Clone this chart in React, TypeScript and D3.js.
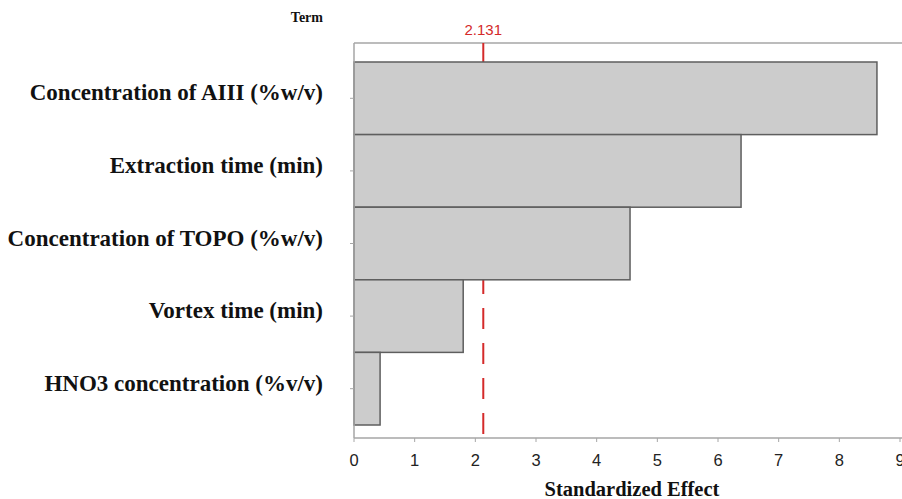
import React from "react";
import * as d3 from "d3";

// Pareto chart of standardized effects
const terms = [
  "Concentration of AIII (%w/v)",
  "Extraction time (min)",
  "Concentration of TOPO (%w/v)",
  "Vortex time (min)",
  "HNO3 concentration (%v/v)",
];
const effects = [8.62, 6.38, 4.55, 1.8, 0.43];
const xTicks = [0, 1, 2, 3, 4, 5, 6, 7, 8, 9];
const critical = 2.131;

const App = () => {
  const width = 902;
  const height = 499;

  const x = d3.scaleLinear().domain([0, 9]).range([354, 900]);
  const y = d3.scaleBand<string>().domain(terms).range([62, 425]).paddingInner(0);

  const top = 43;
  const bottom = 438;
  const red = "#d42a2a";
  const axisGray = "#a6a6a6";
  const serif = "'Liberation Serif', 'Times New Roman', serif";
  const sans = "'Liberation Sans', Arial, sans-serif";

  return (
    <svg
      width={width}
      height={height}
      style={{ position: "absolute", left: 0, top: 0, background: "white" }}
    >
      {/* frame top line */}
      <line x1={x(0)} x2={width} y1={top} y2={top} stroke={axisGray} strokeWidth={1.5} />

      {/* critical line: solid above bars, dashed below */}
      <line x1={x(critical)} x2={x(critical)} y1={top} y2={y(terms[0])!} stroke={red} strokeWidth={2} />
      <line
        x1={x(critical)}
        x2={x(critical)}
        y1={y(terms[0])!}
        y2={bottom}
        stroke={red}
        strokeWidth={2}
        strokeDasharray="21 14"
        strokeDashoffset={-1}
      />
      <text x={x(critical)} y={35} fill={red} fontFamily={sans} fontSize={15} textAnchor="middle">
        {critical}
      </text>

      {/* bars */}
      {terms.map((t, i) => (
        <rect
          key={t}
          x={x(0)}
          y={y(t)!}
          width={x(effects[i]) - x(0)}
          height={y.bandwidth()}
          fill="#cccccc"
          stroke="#5e5e5e"
          strokeWidth={1.5}
        />
      ))}

      {/* left axis */}
      <line x1={x(0)} x2={x(0)} y1={top} y2={bottom} stroke={axisGray} strokeWidth={1.5} />
      {terms.map((t) => (
        <g key={t}>
          <line
            x1={x(0) - 4}
            x2={x(0)}
            y1={y(t)! + y.bandwidth() / 2}
            y2={y(t)! + y.bandwidth() / 2}
            stroke={axisGray}
          />
          <text
            x={323}
            y={y(t)! + y.bandwidth() / 2 + 2}
            textAnchor="end"
            fontFamily={serif}
            fontWeight="bold"
            fontSize={23}
            fill="#111"
          >
            {t}
          </text>
        </g>
      ))}
      <text x={323} y={22} textAnchor="end" fontFamily={serif} fontWeight="bold" fontSize={14} fill="#111">
        Term
      </text>

      {/* bottom axis */}
      <line x1={x(0)} x2={width} y1={bottom} y2={bottom} stroke={axisGray} strokeWidth={1.5} />
      {xTicks.map((v) => (
        <g key={v}>
          <line x1={x(v)} x2={x(v)} y1={bottom} y2={bottom + 4} stroke={axisGray} />
          <text x={x(v)} y={466} textAnchor="middle" fontFamily={sans} fontSize={16.5} fill="#222">
            {v}
          </text>
        </g>
      ))}
      <text x={632} y={496} textAnchor="middle" fontFamily={serif} fontWeight="bold" fontSize={20.5} fill="#111">
        Standardized Effect
      </text>
    </svg>
  );
};

export default App;
